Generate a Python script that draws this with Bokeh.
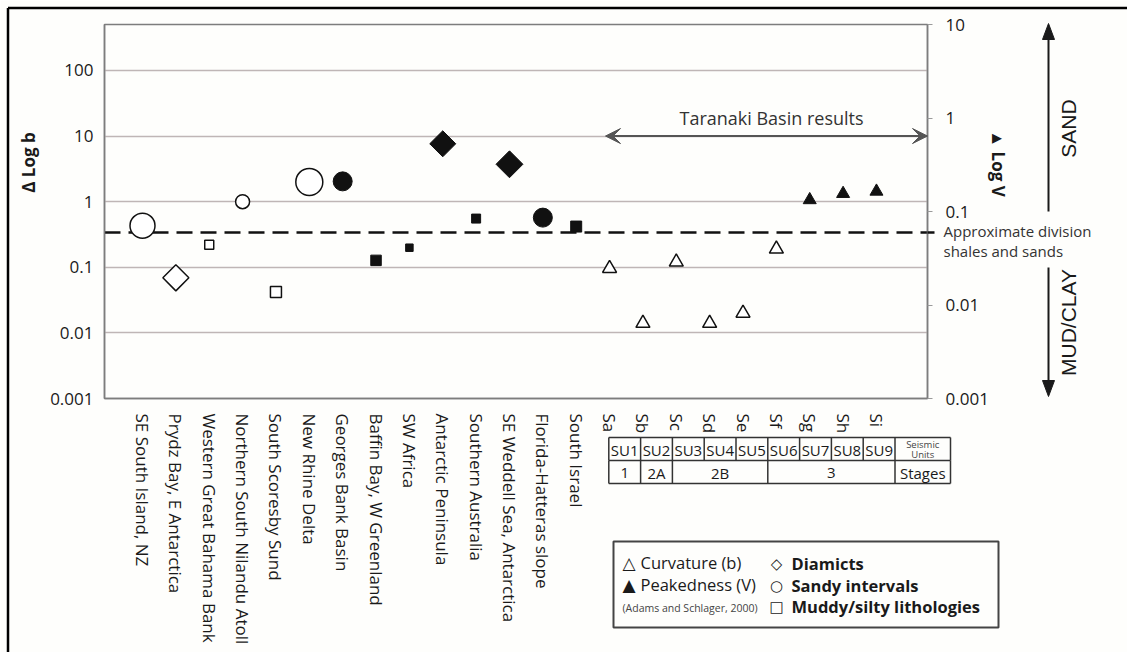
import math
from bokeh.plotting import figure
from bokeh.models import (Range1d, LinearScale, LogScale, LogAxis, FixedTicker,
                          CustomJSTickFormatter, ColumnDataSource, Span, Arrow, VeeHead)
from bokeh.core.properties import field, value
from bokeh.embed import file_html
from bokeh.resources import INLINE

# ---------------- data ----------------
sites = ["SE South Island, NZ", "Prydz Bay, E Antarctica", "Western Great Bahama Bank",
         "Northern South Nilandu Atoll", "South Scoresby Sund", "New Rhine Delta",
         "Georges Bank Basin", "Baffin Bay, W Greenland", "SW Africa", "Antarctic Peninsula",
         "Southern Australia", "SE Weddell Sea, Antarctica", "Florida-Hatteras slope",
         "South Israel"]
taranaki_units = ["Sa", "Sb", "Sc", "Sd", "Se", "Sf", "Sg", "Sh", "Si"]
categories = sites + taranaki_units

# curvature, delta log b (open symbols, left axis)
curvature_b = [0.43, 0.069, 0.22, 1.0, 0.042, 2.0,
               None, None, None, None, None, None, None, None,
               0.096, 0.014, 0.12, 0.014, 0.020, 0.19,
               None, None, None]
# peakedness, log V (filled symbols, right axis)
peakedness_v = [None, None, None, None, None, None,
                0.21, 0.030, 0.041, 0.53, 0.084, 0.32, 0.086, 0.069,
                None, None, None, None, None, None,
                0.133, 0.155, 0.164]
lithology = ["sandy", "diamict", "muddy", "sandy", "muddy", "sandy",
             "sandy", "muddy", "muddy", "diamict", "muddy", "diamict", "sandy", "muddy",
             "taranaki", "taranaki", "taranaki", "taranaki", "taranaki", "taranaki",
             "taranaki", "taranaki", "taranaki"]

seismic_units = ["SU1", "SU2", "SU3", "SU4", "SU5", "SU6", "SU7", "SU8", "SU9"]
stages = ["1", "2A", "2B", "3"]
stage_units = [1, 1, 3, 4]
division_b = 0.34
taranaki_level = 10
left_ticks = [0.001, 0.01, 0.1, 1, 10, 100]
right_ticks = [0.001, 0.01, 0.1, 1, 10]

# ---------------- styles ----------------
marker_px = [25, 18.4, 9, 14, 11, 27, 19, 10.5, 7.5, 18.4, 9, 19, 19, 11,
             14, 14, 14, 14, 14, 14, 13, 13, 13]
shape_of = {"sandy": "circle", "diamict": "square", "muddy": "square", "taranaki": "triangle"}
angle_of = {"sandy": 0.0, "diamict": math.pi / 4, "muddy": 0.0, "taranaki": 0.0}

FONT = "Open Sans"
SYM_FONT = "DejaVu Sans"
INK = "#1a1a1a"
W, H = 1127, 652
FRAME_X0, FRAME_Y0, FRAME_W, FRAME_H = 104, 24, 823, 374
BG = "#fefefc"


def build(values):
    d = dict(x=[], y=[], marker=[], size=[], angle=[])
    for i, v in enumerate(values):
        if v is None:
            continue
        d["x"].append(i)
        d["y"].append(v)
        d["marker"].append(shape_of[lithology[i]])
        d["size"].append(marker_px[i])
        d["angle"].append(angle_of[lithology[i]])
    return ColumnDataSource(d)


# ================= main chart =================
p = figure(frame_width=FRAME_W, frame_height=FRAME_H,
           x_range=Range1d(-1.139, 23.53), y_range=Range1d(0.001, 501),
           y_axis_type="log", output_backend="svg", toolbar_location=None,
           min_border_left=FRAME_X0, min_border_right=W - FRAME_X0 - FRAME_W,
           min_border_top=FRAME_Y0, min_border_bottom=H - FRAME_Y0 - FRAME_H,
           background_fill_color=BG, border_fill_color=BG)

p.extra_x_ranges = {"px": Range1d(0, FRAME_W)}
p.extra_x_scales = {"px": LinearScale()}
p.extra_y_ranges = {"v": Range1d(0.001, 10)}
p.extra_y_scales = {"v": LogScale()}

p.outline_line_color = "#7d7d7d"
p.outline_line_width = 1.5
p.xgrid.visible = False
p.ygrid.grid_line_color = "#bfb6b6"
p.ygrid.grid_line_width = 1.3

fmt_code = "return String(tick);"

la = p.left[0]
la.ticker = FixedTicker(ticks=left_ticks)
la.formatter = CustomJSTickFormatter(code=fmt_code)
la.major_tick_in = 0
la.major_tick_out = 0
la.minor_tick_in = 0
la.minor_tick_out = 0
la.major_tick_line_color = None
la.minor_tick_line_color = None
la.axis_line_color = "#7d7d7d"
la.axis_line_width = 1.5
la.major_label_standoff = 11
la.major_label_text_font = FONT
la.major_label_text_font_size = "17px"
la.major_label_text_color = INK

xa = p.below[0]
xa.ticker = FixedTicker(ticks=list(range(len(categories))))
xa.major_label_overrides = {i: c for i, c in enumerate(categories)}
xa.major_label_orientation = "vertical"
xa.major_tick_in = 0
xa.major_tick_out = 0
xa.minor_tick_in = 0
xa.minor_tick_out = 0
xa.major_tick_line_color = None
xa.minor_tick_line_color = None
xa.axis_line_color = "#7d7d7d"
xa.axis_line_width = 1.5
xa.major_label_standoff = 15
xa.major_label_text_font = FONT
xa.major_label_text_font_size = "17px"
xa.major_label_text_color = INK

ra = LogAxis(y_range_name="v", ticker=FixedTicker(ticks=right_ticks),
             formatter=CustomJSTickFormatter(code=fmt_code),
             major_tick_in=0, major_tick_out=5, minor_tick_in=0, minor_tick_out=0,
             major_tick_line_color="#9a9a9a", minor_tick_line_color=None,
             axis_line_color="#7d7d7d", axis_line_width=1.5,
             major_label_standoff=13, major_label_text_font=FONT,
             major_label_text_font_size="17px", major_label_text_color=INK)
p.add_layout(ra, "right")

# division line
p.add_layout(Span(location=division_b, dimension="width", line_color="#111111",
                  line_width=2.5, line_dash="16 8", level="underlay"))

# data markers
p.scatter(x="x", y="y", marker=field("marker"), size="size", angle="angle",
          source=build(curvature_b), fill_color="white", line_color="#111111", line_width=1.5)
p.scatter(x="x", y="y", marker=field("marker"), size="size", angle="angle",
          source=build(peakedness_v), y_range_name="v", fill_color="#111111",
          line_color="#111111", line_width=1)

# Taranaki Basin results double arrow at the left-axis level 10
p.add_layout(Arrow(start=VeeHead(size=15, fill_color="#555555", line_color="#555555"),
                   end=VeeHead(size=15, fill_color="#555555", line_color="#555555"),
                   x_start=605 - FRAME_X0, x_end=FRAME_W,
                   y_start=taranaki_level, y_end=taranaki_level,
                   x_range_name="px", line_color="#555555", line_width=2))

# ================= overlay for decorations outside the plot frame =================
q = figure(width=W, height=H, x_range=Range1d(0, W), y_range=Range1d(H, 0),
           x_axis_type=None, y_axis_type=None, output_backend="svg",
           toolbar_location=None, min_border=0,
           background_fill_alpha=0, border_fill_alpha=0, outline_line_color=None)
q.grid.visible = False
q.margin = (-H, 0, 0, 0)


def seg(x0, y0, x1, y1, color=INK, width=1.5):
    q.segment(x0=[x0], y0=[y0], x1=[x1], y1=[y1], line_color=color, line_width=width)


def txt(x, y, s, size="17px", align="left", bold=False, color=INK, angle=0.0, font=FONT):
    q.text(x=[x], y=[y], text=[s], text_align=align, text_baseline="middle",
           text_font=value(font), text_font_size=size, text_color=color, angle=angle,
           text_font_style="bold" if bold else "normal")


txt(771, 117, "Taranaki Basin results", size="18px", align="center", color="#333333")

# short continuation of the division line past the frame
seg(927, 232, 934, 232, color="#111111", width=2.5)

# division text
txt(943, 230, "Approximate division", size="15px", color="#333333")
txt(943, 250, "shales and sands", size="15px", color="#333333")

# axis titles
txt(28, 162, "\u0394 Log b", size="17px", align="center", bold=True, angle=math.pi / 2)
txt(998, 163, "\u25B2 Log V", size="17px", align="center", bold=True, angle=-math.pi / 2)

# SAND / MUD arrows
AX = 1048
seg(AX, 211, AX, 36, width=2)
seg(AX, 267, AX, 383, width=2)
q.patches(xs=[[AX, AX - 6, AX + 6], [AX, AX - 6, AX + 6]],
          ys=[[23, 39, 39], [396, 380, 380]], fill_color=INK, line_color=INK, line_width=1)
txt(1068, 128, "SAND", size="21px", align="center", angle=math.pi / 2, font="Liberation Sans")
txt(1068, 322, "MUD/CLAY", size="21px", align="center", angle=math.pi / 2,
    font="Liberation Sans")

# seismic-unit / stage table
TX0, CW, TX_END = 608.3, 31.8, 950
TY = [437, 460, 483]
col_edges = [TX0 + CW * k for k in range(len(seismic_units) + 1)] + [TX_END]
for yy in TY:
    seg(TX0, yy, TX_END, yy, color="#333333")
for xe in col_edges:
    seg(xe, TY[0], xe, TY[1], color="#333333")
stage_edges = [0]
for n in stage_units:
    stage_edges.append(stage_edges[-1] + n)
for k in stage_edges:
    seg(col_edges[k], TY[1], col_edges[k], TY[2], color="#333333")
seg(TX_END, TY[1], TX_END, TY[2], color="#333333")
ymid1 = (TY[0] + TY[1]) / 2
ymid2 = (TY[1] + TY[2]) / 2
for k, su in enumerate(seismic_units):
    txt(TX0 + CW * (k + 0.5), ymid1 + 0.5, su, size="15px", align="center")
for j, st in enumerate(stages):
    xc = (col_edges[stage_edges[j]] + col_edges[stage_edges[j + 1]]) / 2
    txt(xc, ymid2 + 0.5, st, size="15px", align="center")
last_c = (col_edges[-2] + col_edges[-1]) / 2
txt(last_c, ymid1 - 4.5, "Seismic", size="9.5px", align="center", color="#444444")
txt(last_c, ymid1 + 5, "Units", size="9.5px", align="center", color="#444444")
txt(last_c, ymid2 + 0.5, "Stages", size="15px", align="center")

# legend box
q.quad(left=[613], right=[998], top=[541], bottom=[627], fill_color=None,
       line_color="#444444", line_width=2)
txt(622, 562, "\u25B3", size="17px", font=SYM_FONT)
txt(640, 562, "Curvature (b)", size="16.5px")
txt(622, 584, "\u25B2", size="17px", font=SYM_FONT)
txt(640, 584, "Peakedness (V)", size="16.5px")
txt(622, 607, "(Adams and Schlager, 2000)", size="10.5px", color="#444444")
txt(776, 563, "\u25C7", size="15px", align="center", font=SYM_FONT)
txt(776, 585, "\u25CB", size="15px", align="center", font=SYM_FONT)
txt(776, 606, "\u25A1", size="15px", align="center", font=SYM_FONT)
txt(791, 563, "Diamicts", size="16.5px", bold=True)
txt(791, 585, "Sandy intervals", size="16.5px", bold=True)
txt(791, 606, "Muddy/silty lithologies", size="16.5px", bold=True)

# outer frame (left and top edges)
seg(7.5, 7.5, 7.5, H, color="#000000", width=2.5)
seg(7.5, 7.5, W, 7.5, color="#000000", width=2.5)

open("out.html", "w").write(file_html([p, q], INLINE))
